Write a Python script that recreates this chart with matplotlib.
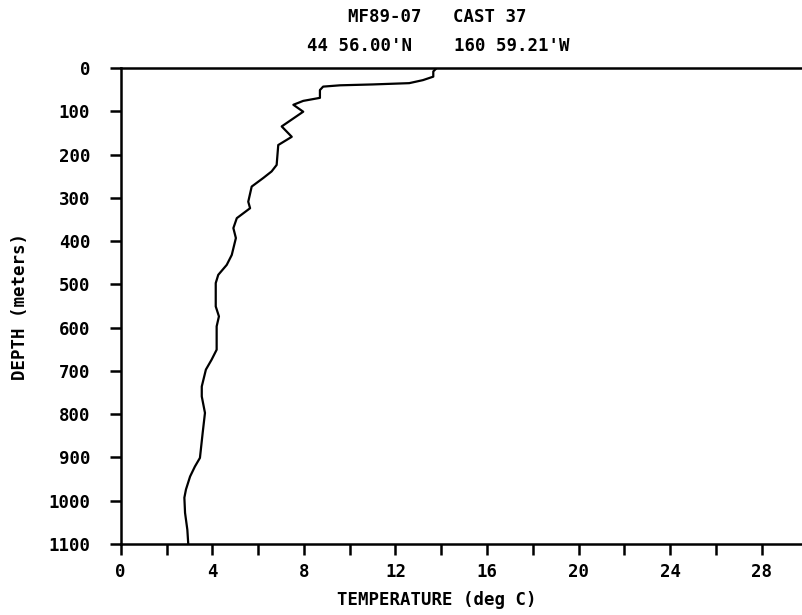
import matplotlib
matplotlib.use('Agg')
import matplotlib.pyplot as plt
from matplotlib.ticker import MultipleLocator

# temperature profile
temp = [13.8, 13.65, 13.65, 13.2, 12.6, 11.0, 9.58, 8.84, 8.7, 8.7, 7.97, 7.54, 7.97,
        7.03, 7.47, 6.88, 6.81, 6.59, 6.23, 5.72, 5.57, 5.65, 5.07, 4.92, 5.03, 4.85,
        4.63, 4.26, 4.15, 4.15, 4.29, 4.19, 4.19, 3.97, 3.72, 3.54, 3.54, 3.68, 3.58,
        3.46, 3.24, 3.03, 2.85, 2.78, 2.81, 2.91, 2.95]
depth = [0, 8, 20, 28, 35, 38, 40, 43, 51, 69, 76, 85, 101,
         135, 159, 178, 224, 239, 254, 274, 309, 324, 347, 370, 393, 432,
         455, 478, 497, 551, 574, 597, 651, 674, 697, 736, 759, 797, 843,
         901, 921, 944, 974, 993, 1028, 1067, 1100]

title1 = 'MF89-07   CAST 37'
title2 = '44 56.00\'N    160 59.21\'W'
xlabel = 'TEMPERATURE (deg C)'
ylabel = 'DEPTH (meters)'

plt.rcParams['font.family'] = 'DejaVu Sans Mono'
plt.rcParams['font.weight'] = 'bold'

fig = plt.figure(figsize=(8.02, 6.15), dpi=100)
# axes runs a bit past the right edge, as in the cropped scan
ax = fig.add_axes([120.7 / 802, 71 / 615, 30 * 22.9 / 802, 476 / 615])

ax.plot(temp, depth, color='black', lw=1.6)

ax.set_xlim(0, 30)
ax.set_ylim(1100, 0)
ax.xaxis.set_major_locator(MultipleLocator(4))
ax.xaxis.set_minor_locator(MultipleLocator(2))
ax.yaxis.set_major_locator(MultipleLocator(100))
ax.tick_params(axis='both', which='both', direction='out', length=8, width=1.8,
               labelsize=12.5, colors='black')
ax.tick_params(axis='x', pad=6)
ax.tick_params(axis='y', pad=14)
for s in ax.spines.values():
    s.set_linewidth(1.8)

ax.set_ylabel(ylabel, fontsize=12.5, fontweight='bold', labelpad=14)

# title and x label sit left of the axes centre in the scan
fig.text(437 / 802, 1 - 600 / 615, xlabel, ha='center', va='center', fontsize=12.5, fontweight='bold')
fig.text(437 / 802, 1 - 17 / 615, title1, ha='center', va='center', fontsize=12.5, fontweight='bold')
fig.text(438 / 802, 1 - 46 / 615, title2, ha='center', va='center', fontsize=12.5, fontweight='bold')

fig.savefig('out.png', dpi=100)
